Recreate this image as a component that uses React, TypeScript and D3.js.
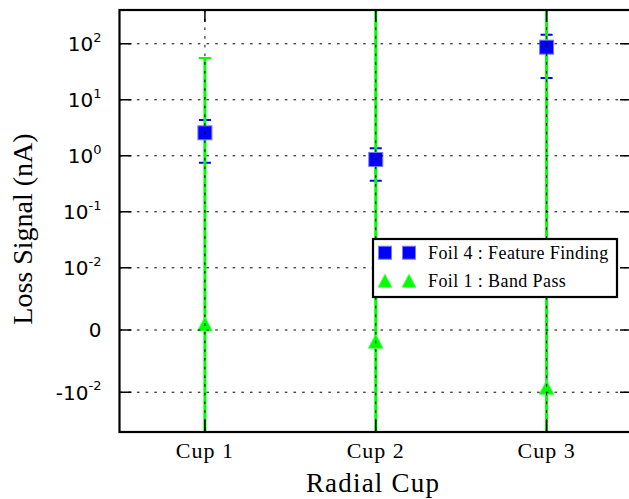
import React from 'react';
import * as d3 from 'd3';

// values (symlog y axis, linthresh 0.01)
const cups = ['Cup 1', 'Cup 2', 'Cup 3'];
const foil4Values = [2.57, 0.86, 87];
const foil4Lower = [0.754, 0.359, 24.5];
const foil4Upper = [4.37, 1.36, 145];
const foil1Values = [0.001, -0.0018, -0.0092];
const foil1Lower = [-1, -1, -1];
const foil1Upper = [56, 1000, 1000];
const yTicks = [100, 10, 1, 0.1, 0.01, 0, -0.01];
const yTickLabels = [
  ['', '10', '2'],
  ['', '10', '1'],
  ['', '10', '0'],
  ['', '10', '-1'],
  ['', '10', '-2'],
  ['0', '', ''],
  ['-', '10', '-2'],
];
const seriesNames = ['Foil 4 : Feature Finding', 'Foil 1 : Band Pass'];
const yLimits = [-0.0513, 401];

const width = 629;
const height = 499;
const margin = { top: 10, right: -3, bottom: 67, left: 119.5 };

const linthresh = 0.01;
const linscale = 1 / (1 - 1 / 10);
const symlog = (v: number) => {
  const a = Math.abs(v);
  if (a <= linthresh) return (v / linthresh) * linscale;
  return Math.sign(v) * (linscale + Math.log10(a / linthresh));
};

const serif = '"Liberation Serif", "DejaVu Serif", serif';
const sans = '"DejaVu Sans", sans-serif';

const Square = ({ x, y, s = 14 }: { x: number; y: number; s?: number }) => (
  <rect x={x - s / 2} y={y - s / 2} width={s} height={s} fill="#0000ff" stroke="#7a7aff" strokeWidth={1} />
);

const Triangle = ({ x, y, s = 15 }: { x: number; y: number; s?: number }) => {
  const h = s * 0.95;
  const p = d3.path();
  p.moveTo(x, y - h / 2);
  p.lineTo(x - s / 2, y + h / 2);
  p.lineTo(x + s / 2, y + h / 2);
  p.closePath();
  return <path d={p.toString()} fill="#00ff00" stroke="#66ff66" strokeWidth={0.8} />;
};

export default function App() {
  const x0 = margin.left;
  const x1 = width - margin.right;
  const y0 = height - margin.bottom;
  const y1 = margin.top;

  const x = d3.scaleLinear().domain([0.5, 3.5]).range([x0, x1]);
  const ty = d3.scaleLinear().domain([symlog(yLimits[0]), symlog(yLimits[1])]).range([y0, y1]);
  const y = (v: number) => ty(symlog(v));

  const dots = '2.6,6.1';

  return (
    <svg width={width} height={height} style={{ position: 'absolute', left: 0, top: 0, background: '#fff' }}>
      <defs>
        <clipPath id="plot">
          <rect x={x0} y={y1} width={x1 - x0} height={y0 - y1} />
        </clipPath>
      </defs>
      <rect width={width} height={height} fill="#fff" />

      <g clipPath="url(#plot)">
        {/* Foil 4 error bars */}
        {cups.map((c, i) => (
          <g key={'e4' + c} stroke="#0000ff" strokeWidth={2}>
            <line x1={x(i + 1)} x2={x(i + 1)} y1={y(foil4Lower[i])} y2={y(foil4Upper[i])} />
            <line x1={x(i + 1) - 6} x2={x(i + 1) + 6} y1={y(foil4Lower[i])} y2={y(foil4Lower[i])} />
            <line x1={x(i + 1) - 6} x2={x(i + 1) + 6} y1={y(foil4Upper[i])} y2={y(foil4Upper[i])} />
          </g>
        ))}
        {/* Foil 1 error bars */}
        {cups.map((c, i) => (
          <g key={'e1' + c} stroke="#00ff00">
            <line x1={x(i + 1)} x2={x(i + 1)} y1={y(foil1Lower[i])} y2={y(foil1Upper[i])} strokeWidth={3} />
            <line x1={x(i + 1) - 6} x2={x(i + 1) + 6} y1={y(foil1Lower[i])} y2={y(foil1Lower[i])} strokeWidth={2} />
            <line x1={x(i + 1) - 6} x2={x(i + 1) + 6} y1={y(foil1Upper[i])} y2={y(foil1Upper[i])} strokeWidth={2} />
          </g>
        ))}
        {cups.map((c, i) => (
          <Square key={'s' + c} x={x(i + 1)} y={y(foil4Values[i])} />
        ))}
        {cups.map((c, i) => (
          <Triangle key={'t' + c} x={x(i + 1)} y={y(foil1Values[i])} />
        ))}

        {/* grid on top */}
        {yTicks.map((t) => (
          <line key={'gy' + t} x1={x0} x2={x1} y1={y(t)} y2={y(t)} stroke="#000" strokeWidth={1} strokeDasharray={dots} />
        ))}
        {cups.map((c, i) => (
          <line key={'gx' + c} x1={x(i + 1)} x2={x(i + 1)} y1={y1} y2={y0} stroke="#000" strokeWidth={1} strokeDasharray={dots} />
        ))}
      </g>

      {/* ticks */}
      {yTicks.map((t) => (
        <g key={'ty' + t} stroke="#000" strokeWidth={1.5}>
          <line x1={x0} x2={x0 + 12} y1={y(t)} y2={y(t)} />
          <line x1={x1 - 12} x2={x1} y1={y(t)} y2={y(t)} />
        </g>
      ))}
      {cups.map((c, i) => (
        <g key={'tx' + c} stroke="#000" strokeWidth={1.5}>
          <line x1={x(i + 1)} x2={x(i + 1)} y1={y0} y2={y0 - 12} />
          <line x1={x(i + 1)} x2={x(i + 1)} y1={y1} y2={y1 + 12} />
        </g>
      ))}

      {/* spines */}
      <rect x={x0} y={y1} width={x1 - x0} height={y0 - y1} fill="none" stroke="#000" strokeWidth={2.2} />

      {/* y tick labels */}
      {yTicks.map((t, i) => {
        const [pre, base, sup] = yTickLabels[i];
        return (
          <text key={'ly' + t} x={x0 - 18} y={y(t) + 7.3} textAnchor="end" fontFamily={sans} fontSize={20} fill="#000">
            {pre && <tspan>{pre}</tspan>}
            {base && <tspan>{base}</tspan>}
            {sup && (
              <tspan dy={-9.5} fontSize={13}>
                {sup}
              </tspan>
            )}
          </text>
        );
      })}

      {/* x tick labels */}
      {cups.map((c, i) => (
        <text key={'lx' + c} x={x(i + 1)} y={458} textAnchor="middle" fontFamily={serif} fontSize={22} letterSpacing={1} fill="#000">
          {c}
        </text>
      ))}

      {/* axis titles */}
      <text x={373} y={492} textAnchor="middle" fontFamily={serif} fontSize={27} letterSpacing={1.2} fill="#000">
        Radial Cup
      </text>
      <text transform={`translate(32,${229}) rotate(-90)`} textAnchor="middle" fontFamily={serif} fontSize={28} fill="#000">
        Loss Signal (nA)
      </text>

      {/* legend */}
      <g>
        <rect x={373} y={239} width={244} height={58} fill="#fff" stroke="#000" strokeWidth={2.2} />
        <Square x={385} y={252.7} s={13} />
        <Square x={409} y={252.7} s={13} />
        <Triangle x={385} y={280.7} s={14} />
        <Triangle x={409} y={280.7} s={14} />
        {seriesNames.map((n, i) => (
          <text key={n} x={428} y={258.5 + i * 28} fontFamily={serif} fontSize={18} letterSpacing={0.4} fill="#000">
            {n}
          </text>
        ))}
      </g>
    </svg>
  );
}
